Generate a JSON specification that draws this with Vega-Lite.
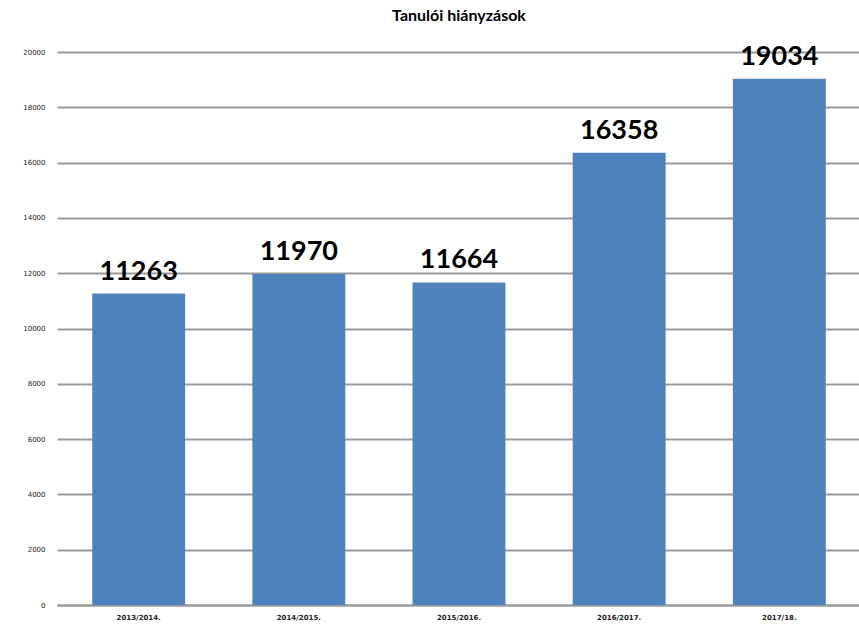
{
  "$schema": "https://vega.github.io/schema/vega-lite/v6.json",
  "autosize": {"type": "none"},
  "width": 804,
  "height": 553,
  "padding": {"left": 57, "top": 52, "right": 0, "bottom": 25},
  "background": "white",
  "view": {"stroke": null},
  "title": {"text": "Tanulói hiányzások", "fontSize": 16, "font": "Lato", "fontWeight": "bold", "color": "#000", "offset": 19, "anchor": "middle"},
  "data": {"values": [
    {"ev": "2013/2014.", "hianyzas": 11263},
    {"ev": "2014/2015.", "hianyzas": 11970},
    {"ev": "2015/2016.", "hianyzas": 11664},
    {"ev": "2016/2017.", "hianyzas": 16358},
    {"ev": "2017/18.", "hianyzas": 19034}
  ]},
  "encoding": {
    "x": {"field": "ev", "type": "nominal", "sort": null, "title": null,
      "scale": {"paddingInner": 0.42, "paddingOuter": 0.22},
      "axis": {"labelAngle": 0, "labelFontSize": 7, "labelFont": "DejaVu Sans", "labelFontWeight": "bold", "labelColor": "#222", "ticks": false, "domainColor": "#999", "domainWidth": 2, "labelPadding": 8}},
    "y": {"field": "hianyzas", "type": "quantitative", "title": null,
      "scale": {"domain": [0, 20000]},
      "axis": {"values": [0,2000,4000,6000,8000,10000,12000,14000,16000,18000,20000], "format": "d", "labelFontSize": 7, "labelFont": "DejaVu Sans", "labelColor": "#222", "ticks": false, "domain": false, "gridColor": "#999", "gridWidth": 2, "labelPadding": 12}}
  },
  "layer": [
    {"mark": {"type": "bar", "color": "#4F81BD"}},
    {"mark": {"type": "text", "baseline": "bottom", "dy": -8, "fontSize": 27, "fontWeight": "bold", "font": "Lato", "color": "#000"},
     "encoding": {"text": {"field": "hianyzas", "type": "quantitative", "format": "d"}}}
  ]
}
